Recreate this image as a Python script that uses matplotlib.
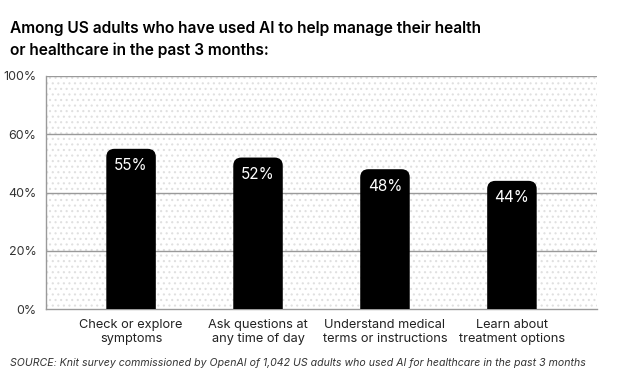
import matplotlib
matplotlib.use("Agg")
import matplotlib.pyplot as plt
from matplotlib.patches import FancyBboxPatch, Rectangle

# Data
categories = ["Check or explore\nsymptoms", "Ask questions at\nany time of day",
              "Understand medical\nterms or instructions", "Learn about\ntreatment options"]
values = [55, 52, 48, 44]
tick_values = [0, 20, 40, 60, 80]
tick_labels = ["0%", "20%", "40%", "60%", "100%"]

title = "Among US adults who have used AI to help manage their health\nor healthcare in the past 3 months:"
source = "SOURCE: Knit survey commissioned by OpenAI of 1,042 US adults who used AI for healthcare in the past 3 months"

plt.rcParams['font.family'] = ['Inter', 'DejaVu Sans']
plt.rcParams['hatch.linewidth'] = 0.8

fig = plt.figure(figsize=(6.25, 3.75), dpi=100)
ax = fig.add_axes([46 / 625, 1 - 309 / 375, 551 / 625, 233 / 375])

# dotted background
bg = Rectangle((0, 0), 1, 1, transform=ax.transAxes, facecolor="white",
               edgecolor="#e0e0e0", hatch="...", lw=0, zorder=0)
ax.add_patch(bg)

ax.set_xlim(-0.67, 3.67)
ax.set_ylim(0, 80)

# gridlines
for t in tick_values[1:]:
    ax.axhline(t, color="#9a9a9a", lw=1.0, zorder=1)

bar_w = 0.39
rx = 0.065
ry = 2.8
for i, v in enumerate(values):
    p = FancyBboxPatch((i - bar_w / 2, -10), bar_w, v + 10,
                       boxstyle=f"round,pad=0,rounding_size={rx}",
                       mutation_aspect=ry / rx, facecolor="black",
                       edgecolor="none", zorder=3)
    ax.add_patch(p)
    ax.text(i, v - 5.8, f"{v}%", ha="center", va="center", color="white",
            fontsize=11, zorder=4)

ax.set_yticks(tick_values)
ax.set_yticklabels(tick_labels, fontsize=9, color="#333333")
ax.set_xticks(range(len(categories)))
ax.set_xticklabels(categories, fontsize=9.2, color="#222222", linespacing=1.3)
ax.tick_params(axis="both", length=0, pad=7)

for s in ["top", "right"]:
    ax.spines[s].set_visible(False)
for s in ["left", "bottom"]:
    ax.spines[s].set_color("#9a9a9a")
    ax.spines[s].set_linewidth(1.0)

fig.text(10 / 625, 1 - 21 / 375, title, ha="left", va="top", fontsize=11.2,
         fontweight="semibold", color="black", linespacing=1.5)
fig.text(10 / 625, 1 - 363 / 375, source, ha="left", va="center", fontsize=7.6,
         style="italic", color="#333333")

fig.savefig("out.png", dpi=100)
